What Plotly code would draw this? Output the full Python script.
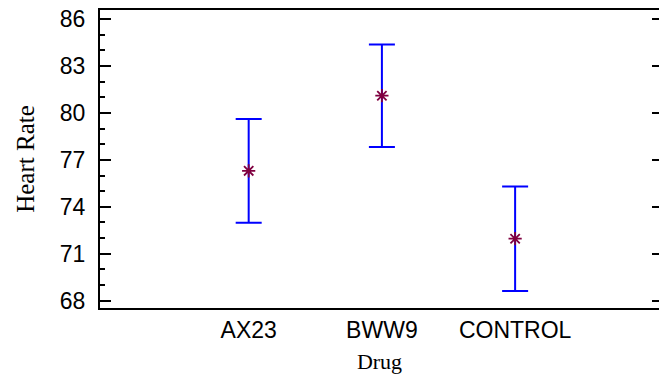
import plotly.graph_objects as go

drugs = ["AX23", "BWW9", "CONTROL"]
means = [76.3, 81.1, 71.96]
half_widths = [3.32, 3.28, 3.34]
y_ticks = [68, 71, 74, 77, 80, 83, 86]

fig = go.Figure()
fig.add_trace(go.Scatter(
    x=drugs, y=means, mode="markers",
    marker=dict(symbol="asterisk-open", size=11, color="#800040",
                line=dict(color="#800040", width=1.8)),
    error_y=dict(type="data", array=half_widths, visible=True,
                 color="#0000FF", thickness=2, width=13),
    showlegend=False, hoverinfo="skip",
))
# invisible trace on a mirrored axis to get right-side ticks
fig.add_trace(go.Scatter(x=drugs, y=means, yaxis="y2", mode="markers",
                         marker=dict(opacity=0), showlegend=False, hoverinfo="skip"))

tick_font = dict(family="Liberation Sans, Arial, sans-serif", size=23, color="black")
title_font = dict(family="Liberation Serif, Times New Roman, serif", size=22, color="black")

fig.update_layout(
    width=659, height=379,
    margin=dict(l=100, r=0, t=10, b=71),
    paper_bgcolor="white", plot_bgcolor="white",
    xaxis=dict(
        type="category", range=[-1.116, 3.08],
        showline=True, linecolor="black", linewidth=2, mirror=True,
        showgrid=False, zeroline=False, ticks="",
        tickfont=tick_font,
        title=dict(text="Drug", font=title_font, standoff=12),
    ),
    yaxis=dict(
        range=[67.53, 86.58], tickvals=y_ticks,
        showline=True, linecolor="black", linewidth=2,
        showgrid=False, zeroline=False,
        ticks="inside", ticklen=11, tickwidth=2, tickcolor="black",
        minor=dict(dtick=1, ticks="inside", ticklen=5, tickwidth=2, tickcolor="black"),
        tickfont=tick_font, ticklabelstandoff=8,
        title=dict(text="Heart Rate", font=dict(family="Liberation Serif, Times New Roman, serif", size=25, color="black"), standoff=18),
    ),
    yaxis2=dict(
        overlaying="y", side="right", range=[67.53, 86.58], tickvals=y_ticks,
        showline=False, showgrid=False, zeroline=False,
        ticks="inside", ticklen=7, tickwidth=2, tickcolor="black",
        showticklabels=False,
    ),
)

fig.write_html("out.html")
